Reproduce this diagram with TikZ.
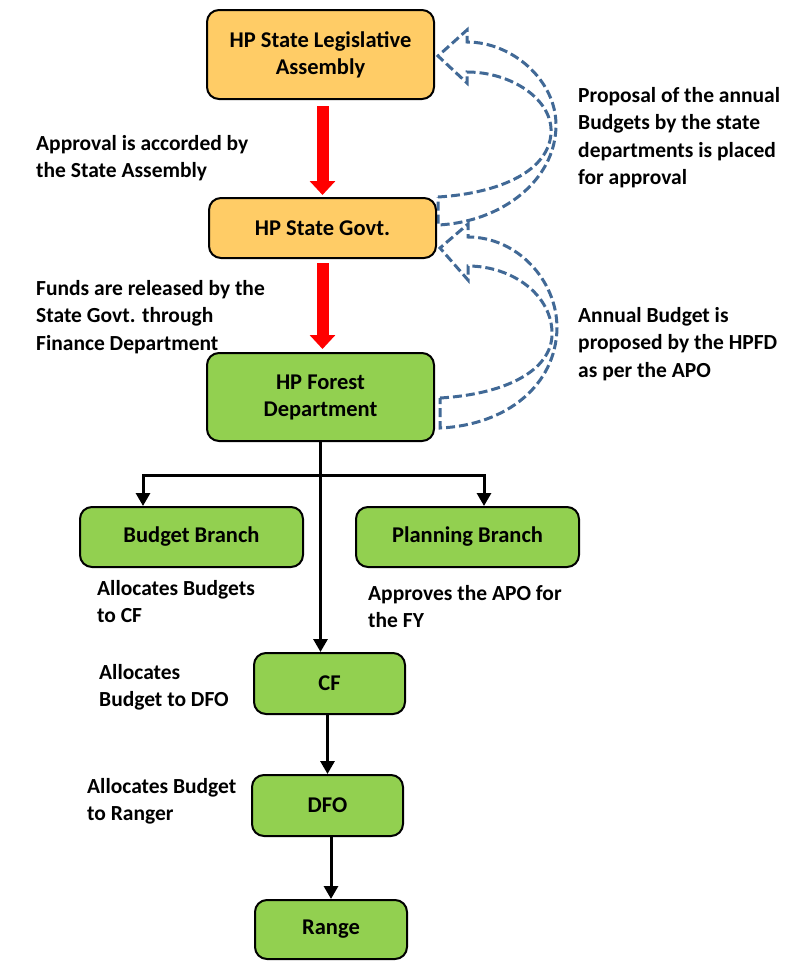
\documentclass[tikz,border=0pt]{standalone}
\usepackage{fontspec}
\setmainfont{Carlito}
\usetikzlibrary{arrows.meta}
\definecolor{boxorange}{RGB}{255,204,102}
\definecolor{boxgreen}{RGB}{146,208,80}
\definecolor{dashblue}{RGB}{65,105,150}
\tikzset{
  box/.style={draw=black, line width=2pt, rounded corners=12pt, font=\fontsize{22.5}{27}\selectfont\bfseries, align=center, inner sep=0pt},
  orangebox/.style={box, fill=boxorange},
  greenbox/.style={box, fill=boxgreen},
  lbl/.style={font=\fontsize{21.5}{27.2}\selectfont\bfseries, align=left, inner sep=0pt, anchor=north west},
  redarrow/.style={draw=red, line width=12pt, -{Triangle[width=25pt,length=14pt]}},
  blackarrow/.style={line width=3pt, line join=miter, -{Triangle[width=14pt,length=13pt]}},
  curvearrow/.style={draw=dashblue, line width=3pt, dash pattern=on 9pt off 4pt, fill=white, line join=miter}
}
\begin{document}
\begin{tikzpicture}[x=1pt,y=-1pt]
\useasboundingbox (0,0) rectangle (789,961);
% curved dashed block arrows
\draw[curvearrow] (438,197) .. controls (502,193) and (549,170) .. (551,133)
  .. controls (553,100) and (512,72) .. (467,72) -- (467,83) -- (438,56) -- (467,30) -- (467,42)
  .. controls (512,42) and (556,80) .. (556,125)
  .. controls (556,180) and (502,222) .. (438,225) -- cycle;
\draw[curvearrow] (440,398) .. controls (507,394) and (551,370) .. (552,335)
  .. controls (553,295) and (512,266) .. (468,266) -- (468,280) -- (440,248) -- (468,224) -- (468,237)
  .. controls (517,237) and (557,280) .. (557,328)
  .. controls (556,385) and (507,425) .. (440,428) -- cycle;
% boxes
\node[orangebox, minimum width=227pt, minimum height=89pt] (leg) at (320.5,54.5) {HP State Legislative\\Assembly};
\node[orangebox, minimum width=227pt, minimum height=60pt] (gov) at (322.5,228) {HP State Govt.};
\node[greenbox, minimum width=227pt, minimum height=88pt] (hpfd) at (320.5,397) {HP Forest\\Department};
\node[greenbox, minimum width=223pt, minimum height=60pt] (budget) at (191.5,537) {Budget Branch};
\node[greenbox, minimum width=223pt, minimum height=60pt] (plan) at (467.5,537) {Planning Branch};
\node[greenbox, minimum width=151pt, minimum height=61pt] (cf) at (329.5,683.5) {CF};
\node[greenbox, minimum width=151pt, minimum height=61pt] (dfo) at (327.5,805.5) {DFO};
\node[greenbox, minimum width=152pt, minimum height=59pt] (range) at (331,929.5) {Range};
% red arrows
\draw[redarrow, shorten <=6pt, shorten >=2pt] (leg.south -| gov.north) -- (gov.north);
\draw[redarrow, shorten <=4pt, shorten >=3pt] (gov.south) -- (gov.south |- hpfd.north);
% black arrows
\coordinate (jy) at (0,475);
\coordinate (j) at (hpfd.south |- jy);
\draw[blackarrow] (hpfd.south) -- (hpfd.south |- cf.north);
\draw[blackarrow] (j) -| ([xshift=-48.5pt]budget.north);
\draw[blackarrow] (j) -| ([xshift=16.5pt]plan.north);
\draw[blackarrow] (cf.south -| dfo.north) -- (dfo.north);
\draw[blackarrow] (dfo.south -| range.north) -- (range.north);
% labels
\node[lbl] (l1) at (36,135) {Approval is accorded by\\the State Assembly};
\node[lbl] (l2) at (36,280.5) {Funds are released by the\\State Govt. through\\Finance Department};
\node[lbl] (l3) at (578,87.5) {Proposal of the annual\\Budgets by the state\\departments is placed\\for approval};
\node[lbl] (l4) at (578,307.5) {Annual Budget is\\proposed by the HPFD\\as per the APO};
\node[lbl] (l5) at (97,580.5) {Allocates Budgets\\to CF};
\node[lbl] (l6) at (368,585.5) {Approves the APO for\\the FY};
\node[lbl] (l7) at (99,664.5) {Allocates\\Budget to DFO};
\node[lbl] (l8) at (87,778.5) {Allocates Budget\\to Ranger};
\end{tikzpicture}
\end{document}
